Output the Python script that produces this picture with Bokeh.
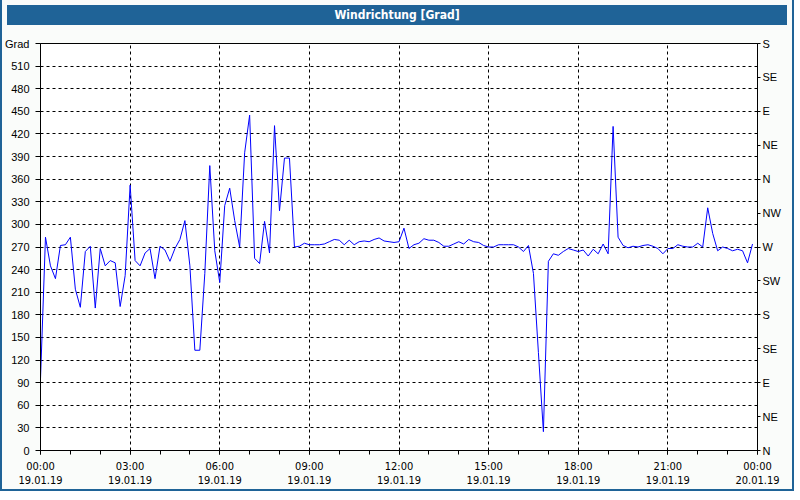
from bokeh.plotting import figure
from bokeh.models import FixedTicker, LinearAxis, Range1d, Div
from bokeh.layouts import column
from bokeh.embed import file_html
from bokeh.resources import INLINE

title_text = "Windrichtung [Grad]"

# wind direction every 10 minutes, 19.01.19 00:00 .. 23:50
direction_deg = [
    95, 283, 245, 228, 272, 273, 283, 214, 190, 264,
    271, 189, 268, 245, 252, 249, 191, 232, 352, 252,
    245, 262, 268, 228, 271, 266, 251, 268, 280, 305,
    245, 133, 133, 235, 378, 265, 223, 325, 348, 305,
    270, 395, 445, 255, 248, 304, 262, 431, 318, 388,
    388, 270, 271, 275, 273, 273, 273, 274, 277, 280,
    279, 273, 279, 273, 277, 278, 277, 280, 282, 278,
    277, 276, 277, 295, 268, 273, 275, 281, 279, 279,
    276, 271, 271, 274, 277, 274, 280, 277, 276, 272,
    270, 270, 273, 273, 273, 273, 270, 264, 272, 235,
    130, 25, 251, 261, 259, 264, 268, 266, 264, 266,
    258, 267, 261, 274, 261, 430, 283, 272, 269, 271,
    270, 272, 273, 271, 268, 261, 268, 268, 273, 271,
    270, 270, 275, 270, 322, 288, 265, 270, 268, 265,
    267, 265, 249, 274,
]
sample_hours = [i / 6 for i in range(len(direction_deg))]

x_ticks = [0, 3, 6, 9, 12, 15, 18, 21, 24]
x_minor_ticks = list(range(0, 25))
x_tick_times = ["00:00", "03:00", "06:00", "09:00", "12:00", "15:00", "18:00", "21:00", "00:00"]
x_tick_dates = ["19.01.19", "19.01.19", "19.01.19", "19.01.19", "19.01.19",
                "19.01.19", "19.01.19", "19.01.19", "20.01.19"]

y_ticks = list(range(0, 541, 30))
y_unit = "Grad"
compass_ticks = list(range(0, 541, 45))
compass_labels = ["N", "NE", "E", "SE", "S", "SW", "W", "NW", "N", "NE", "E", "SE", "S"]

BLUE_BAR = "#1f6397"
LABEL_FONT = "Liberation Sans"
NARROW_FONT = "DejaVu Sans Condensed"

p = figure(
    frame_width=717, frame_height=407,
    output_backend="svg", toolbar_location=None,
    x_range=Range1d(0, 24), y_range=Range1d(0, 540),
    min_border_left=35, min_border_right=28, min_border_top=13, min_border_bottom=36,
    background_fill_color="white", border_fill_color="#fafcfa",
    outline_line_color="black", outline_line_width=1,
)

p.line(sample_hours, direction_deg, line_color="#0000ff", line_width=1)

# x axis
xa = p.xaxis[0]
xa.ticker = FixedTicker(ticks=x_ticks, minor_ticks=x_minor_ticks)
xa.major_label_overrides = {t: f"{tm}\n{d}" for t, tm, d in zip(x_ticks, x_tick_times, x_tick_dates)}
xa.axis_line_color = "black"
xa.major_tick_line_color = "black"
xa.minor_tick_line_color = "black"
xa.major_tick_in = 0
xa.major_tick_out = 4
xa.minor_tick_in = 0
xa.minor_tick_out = 4
xa.major_label_standoff = 5
xa.major_label_text_font = NARROW_FONT
xa.major_label_text_font_size = "11px"
xa.major_label_text_color = "black"
xa.major_label_text_line_height = 1.1

# left y axis
ya = p.yaxis[0]
ya.ticker = FixedTicker(ticks=y_ticks)
ya.major_label_overrides = {540: y_unit}
ya.axis_line_color = "black"
ya.major_tick_line_color = "black"
ya.major_tick_in = 0
ya.major_tick_out = 5
ya.minor_tick_line_color = None
ya.major_label_standoff = 6
ya.major_label_text_font = LABEL_FONT
ya.major_label_text_font_size = "11px"
ya.major_label_text_color = "black"

# right compass axis
ra = LinearAxis(
    ticker=FixedTicker(ticks=compass_ticks),
    major_label_overrides={t: l for t, l in zip(compass_ticks, compass_labels)},
)
ra.axis_line_color = "black"
ra.major_tick_line_color = "black"
ra.major_tick_in = 0
ra.major_tick_out = 3
ra.minor_tick_line_color = None
ra.major_label_standoff = 2
ra.major_label_text_font = LABEL_FONT
ra.major_label_text_font_size = "11px"
ra.major_label_text_color = "black"
p.add_layout(ra, "right")

# grid
p.xgrid.ticker = FixedTicker(ticks=x_ticks[1:-1])
p.ygrid.ticker = FixedTicker(ticks=y_ticks[1:-1])
for g in (p.xgrid, p.ygrid):
    g.grid_line_color = "black"
    g.grid_line_dash = "3 3"
    g.grid_line_width = 1

title_div = Div(
    text=title_text, width=780, height=20,
    styles={
        "background-color": BLUE_BAR, "color": "white", "text-align": "center",
        "font-family": "'DejaVu Sans Condensed', 'Liberation Sans', sans-serif",
        "font-size": "12px", "font-weight": "bold",
        "line-height": "20px",
    },
)

layout = column(title_div, p, spacing=0,
                styles={"border": f"2px solid {BLUE_BAR}", "border-top": "0px",
                        "background-color": "#fafcfa"})

open("out.html", "w").write(file_html(layout, INLINE, title=title_text))
